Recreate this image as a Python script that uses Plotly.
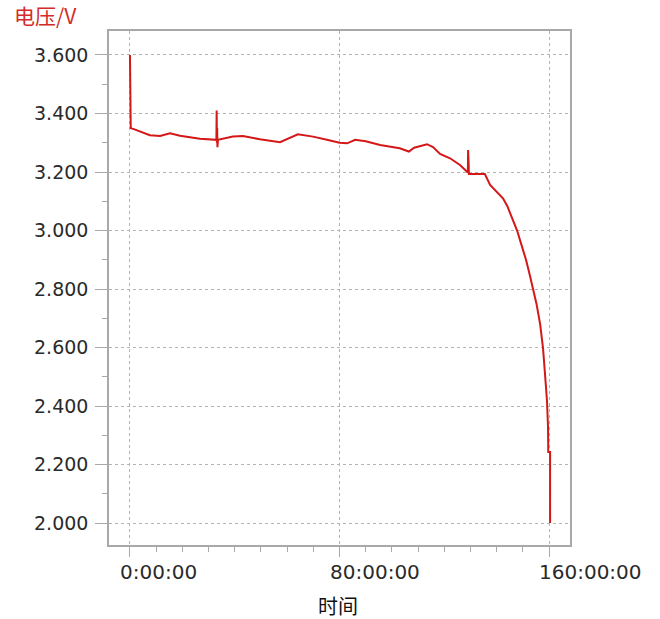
import plotly.graph_objects as go

# Discharge curve: elapsed time (hours) and cell voltage (V)
hours = [0.0, 0.3, 2.0, 5.0, 7.6, 11.5, 15.3, 19.1, 26.7, 33.0, 33.1, 33.2, 33.3, 33.4, 33.6,
         39.3, 43.1, 49.6, 57.3, 64.1, 69.9, 75.2, 80.0, 82.9, 86.0, 90.0, 95.5, 103.0,
         106.5, 108.5, 113.4, 115.7, 118.4, 122.2, 126.0, 129.0, 129.1, 129.2, 129.3,
         129.4, 135.5, 137.5, 140.1, 142.4, 144.0, 145.1, 146.5, 147.8, 149.5, 151.2,
         152.6, 153.9, 155.2, 156.6, 157.7, 158.4, 159.2, 159.6, 159.7, 160.4, 160.4]
volts = [3.600, 3.350, 3.345, 3.335, 3.326, 3.323, 3.332, 3.324, 3.314, 3.310, 3.410, 3.300,
         3.350, 3.285, 3.310, 3.321, 3.323, 3.312, 3.302, 3.329, 3.321, 3.310, 3.300, 3.298,
         3.310, 3.305, 3.292, 3.281, 3.270, 3.283, 3.295, 3.285, 3.262, 3.247, 3.224, 3.198,
         3.275, 3.200, 3.230, 3.193, 3.193, 3.156, 3.133, 3.110, 3.085, 3.059, 3.030, 3.000,
         2.950, 2.900, 2.850, 2.800, 2.750, 2.680, 2.598, 2.516, 2.420, 2.330, 2.243, 2.243,
         2.000]

x_tick_vals = [0, 80, 160]
x_tick_text = ["0:00:00", "80:00:00", "160:00:00"]
y_tick_vals = [2.0, 2.2, 2.4, 2.6, 2.8, 3.0, 3.2, 3.4, 3.6]
y_tick_text = ["2.000", "2.200", "2.400", "2.600", "2.800", "3.000", "3.200", "3.400", "3.600"]

y_title = "电压/V"
x_title = "时间"

LINE_RED = "#d41818"
FRAME = "#a8a8a8"
GRID = "#b4b4b4"
LABEL = "#2a2a2a"

fig = go.Figure()
fig.add_trace(go.Scatter(
    x=hours, y=volts, mode="lines",
    line=dict(color=LINE_RED, width=2),
    showlegend=False, hoverinfo="skip",
))

fig.update_xaxes(
    range=[-8, 168],
    tickvals=x_tick_vals, showticklabels=False,
    ticks="outside", ticklen=10, tickcolor=FRAME, tickwidth=1,
    minor=dict(dtick=10, tick0=0, ticks="outside", ticklen=5, tickcolor=FRAME, showgrid=False),
    showgrid=True, gridcolor=GRID, griddash="dot", gridwidth=1,
    showline=True, linecolor=FRAME, linewidth=1.5, mirror=True,
    zeroline=False,
)
fig.update_yaxes(
    range=[1.925, 3.682],
    tickvals=y_tick_vals, ticktext=y_tick_text,
    ticks="outside", ticklen=12, tickcolor=FRAME, tickwidth=1,
    ticklabelstandoff=3,
    tickfont=dict(family="DejaVu Sans", size=19, color=LABEL),
    minor=dict(dtick=0.1, tick0=2.0, ticks="outside", ticklen=5, tickcolor=FRAME, showgrid=False),
    showgrid=True, gridcolor=GRID, griddash="dot", gridwidth=1,
    showline=True, linecolor=FRAME, linewidth=1.5, mirror=True,
    zeroline=False,
)

# Time labels sit just left of their tick and run to the right
for v, t in zip(x_tick_vals, x_tick_text):
    fig.add_annotation(
        x=v, xref="x", y=0, yref="paper", yshift=-27,
        text=t, showarrow=False, xanchor="left", yanchor="middle", xshift=-12,
        font=dict(family="DejaVu Sans", size=20, color=LABEL),
    )

# Axis titles
fig.add_annotation(
    x=79.4, xref="x", y=0, yref="paper", yshift=-60,
    text=x_title, showarrow=False, xanchor="center", yanchor="middle",
    font=dict(family="Noto Sans CJK SC", size=20, color="#111111"),
)
fig.add_annotation(
    x=-97 / 461, xref="paper", y=1, yref="paper", yshift=16,
    text=y_title, showarrow=False, xanchor="left", yanchor="middle",
    font=dict(family="Noto Sans CJK SC", size=21, color="#d42a2a"),
)

fig.update_layout(
    width=660, height=619,
    margin=dict(l=109, r=90, t=31, b=74),
    paper_bgcolor="white", plot_bgcolor="white",
)

fig.write_html("out.html")
